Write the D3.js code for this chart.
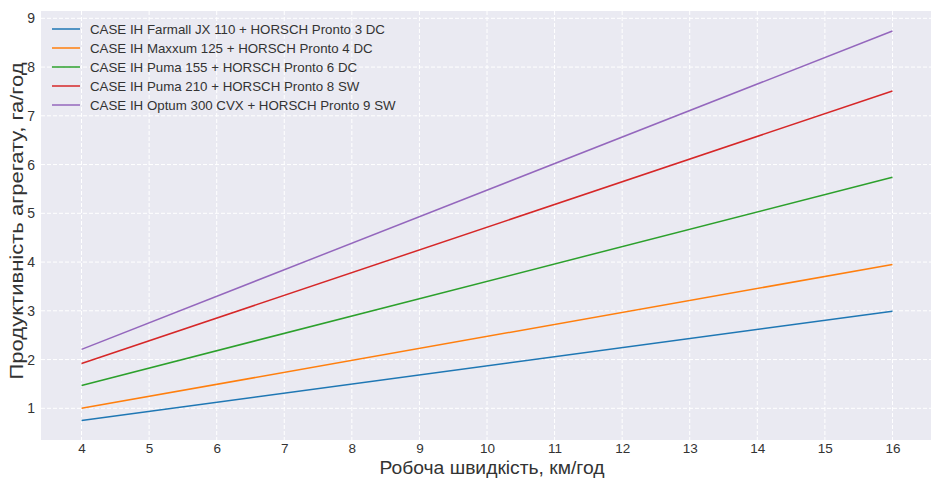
<!DOCTYPE html>
<html>
<head>
<meta charset="utf-8">
<script src="https://cdn.jsdelivr.net/npm/d3@7"></script>
<style>
  body { margin: 0; background: #fff; }
  svg { display: block; font-family: "Liberation Sans", Arial, sans-serif; }
</style>
</head>
<body>
<svg width="931" height="479"></svg>
<script>
// speeds read at the ends of each straight line
var speeds = [4, 16];
var seriesNames = [
    "CASE IH Farmall JX 110 + HORSCH Pronto 3 DC",
    "CASE IH Maxxum 125 + HORSCH Pronto 4 DC",
    "CASE IH Puma 155 + HORSCH Pronto 6 DC",
    "CASE IH Puma 210 + HORSCH Pronto 8 SW",
    "CASE IH Optum 300 CVX + HORSCH Pronto 9 SW"
];
var farmall = [0.75, 2.99];
var maxxum = [1.00, 3.95];
var puma155 = [1.47, 5.74];
var puma210 = [1.92, 7.51];
var optum = [2.21, 8.74];
var xTicks = [4, 5, 6, 7, 8, 9, 10, 11, 12, 13, 14, 15, 16];
var yTicks = [1, 2, 3, 4, 5, 6, 7, 8, 9];
var colors = ["#1f77b4", "#ff7f0e", "#2ca02c", "#d62728", "#9467bd"];

var series = [farmall, maxxum, puma155, puma210, optum];

var svg = d3.select("svg"),
    plotL = 41, plotR = 933, plotT = 11, plotB = 440;

var x = d3.scaleLinear().domain([3.4, 16.6]).range([plotL, plotR]);
var y = d3.scaleLinear().domain([0.35, 9.15]).range([plotB, plotT]);

svg.append("rect")
    .attr("x", plotL).attr("y", plotT)
    .attr("width", plotR - plotL).attr("height", plotB - plotT)
    .attr("fill", "#eaeaf2");

// grid
svg.append("g").selectAll("line").data(xTicks).enter().append("line")
    .attr("x1", function(d) { return x(d); }).attr("x2", function(d) { return x(d); })
    .attr("y1", plotT).attr("y2", plotB)
    .attr("stroke", "#fff").attr("stroke-width", 1).attr("stroke-dasharray", "4,2");
svg.append("g").selectAll("line").data(yTicks).enter().append("line")
    .attr("y1", function(d) { return y(d); }).attr("y2", function(d) { return y(d); })
    .attr("x1", plotL).attr("x2", plotR)
    .attr("stroke", "#fff").attr("stroke-width", 1).attr("stroke-dasharray", "4,2");

// axes (tick labels only)
var xAxis = svg.append("g")
    .attr("transform", "translate(0," + plotB + ")")
    .call(d3.axisBottom(x).tickValues(xTicks).tickSize(0).tickPadding(3));
var yAxis = svg.append("g")
    .attr("transform", "translate(" + plotL + ",0)")
    .call(d3.axisLeft(y).tickValues(yTicks).tickSize(0).tickPadding(6));
[xAxis, yAxis].forEach(function(a) {
    a.select(".domain").remove();
    a.selectAll("text").attr("font-size", 13.5).attr("fill", "#333")
        .attr("font-family", "'Liberation Sans', Arial, sans-serif");
});
yAxis.selectAll("text").attr("font-size", 14);

// lines
var line = d3.line()
    .x(function(d, i) { return x(speeds[i]); })
    .y(function(d) { return y(d); });

svg.append("g").selectAll("path").data(series).enter().append("path")
    .attr("d", line)
    .attr("fill", "none")
    .attr("stroke", function(d, i) { return colors[i]; })
    .attr("stroke-width", 1.5);

// legend
var legend = svg.append("g").selectAll("g").data(seriesNames).enter().append("g")
    .attr("transform", function(d, i) { return "translate(52," + (29 + i * 19) + ")"; });
legend.append("line")
    .attr("x1", 0).attr("x2", 28)
    .attr("stroke", function(d, i) { return colors[i]; })
    .attr("stroke-width", 1.5);
legend.append("text")
    .attr("x", 38).attr("dy", "0.35em")
    .attr("font-size", 13.3).attr("fill", "#333")
    .text(function(d) { return d; });

// axis titles
svg.append("text")
    .attr("x", 492).attr("y", 474)
    .attr("text-anchor", "middle")
    .attr("font-size", 17.5).attr("fill", "#333")
    .attr("textLength", 225).attr("lengthAdjust", "spacingAndGlyphs")
    .text("Робоча швидкість, км/год");
svg.append("text")
    .attr("transform", "translate(23,221) rotate(-90)")
    .attr("text-anchor", "middle")
    .attr("font-size", 18.5).attr("fill", "#333")
    .attr("textLength", 317).attr("lengthAdjust", "spacingAndGlyphs")
    .text("Продуктивність агрегату, га/год");
</script>
</body>
</html>
